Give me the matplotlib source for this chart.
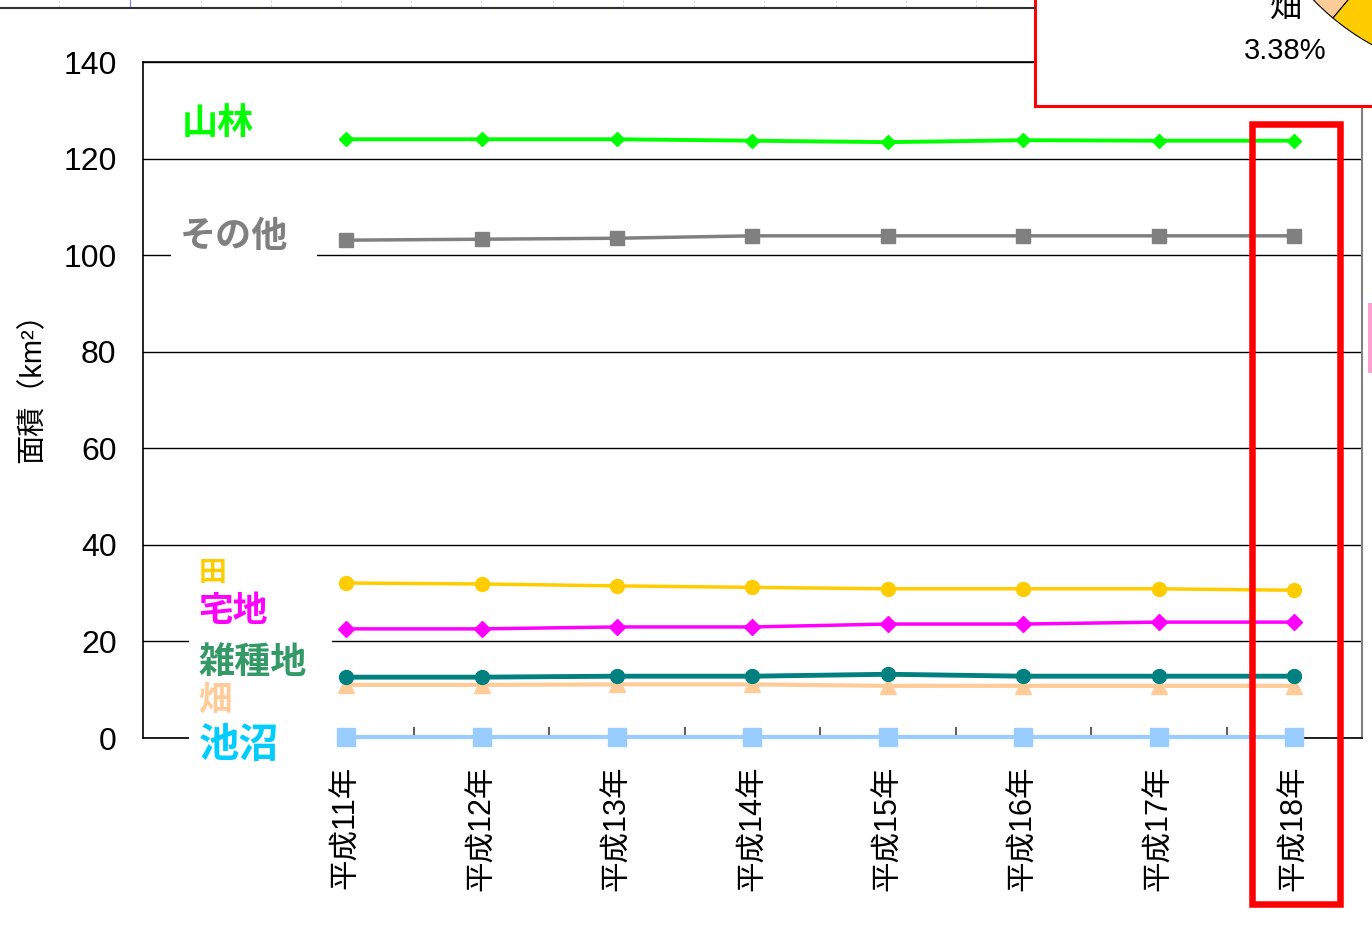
import matplotlib
matplotlib.use("Agg")
import matplotlib.pyplot as plt
from matplotlib.patches import Rectangle, Wedge
import numpy as np

# ---------------------------------------------------------------------------
# Data
# ---------------------------------------------------------------------------

years = ["平成11年", "平成12年", "平成13年", "平成14年",
         "平成15年", "平成16年", "平成17年", "平成18年"]

sanrin  = [124.0, 124.0, 124.0, 123.7, 123.4, 123.8, 123.7, 123.7]   # 山林
sonota  = [103.1, 103.3, 103.5, 104.0, 104.0, 104.0, 104.0, 104.0]   # その他
ta      = [32.1, 31.9, 31.5, 31.2, 30.9, 30.9, 30.9, 30.6]           # 田
takuchi = [22.6, 22.6, 23.0, 23.0, 23.6, 23.6, 24.0, 24.0]           # 宅地
zasshu  = [12.6, 12.6, 12.8, 12.8, 13.2, 12.8, 12.8, 12.8]           # 雑種地
hata    = [11.0, 11.0, 11.1, 11.1, 10.8, 10.8, 10.8, 10.8]           # 畑
chisho  = [0.2, 0.2, 0.2, 0.2, 0.2, 0.2, 0.2, 0.2]                   # 池沼

yticks = [0, 20, 40, 60, 80, 100, 120, 140]

LATIN = "Liberation Sans"
CJK = "Noto Sans CJK JP"
plt.rcParams["font.family"] = [LATIN, CJK, "DejaVu Sans"]

W, H = 1372, 931
fig = plt.figure(figsize=(W / 100, H / 100), dpi=100)
fig.patch.set_facecolor("white")

# axes box in pixels: x 143..1362, y 62..738
ax = fig.add_axes([143 / W, 1 - 738 / H, (1362 - 143) / W, (738 - 62) / H])
x = np.arange(len(years))

# series: (values, line colour, marker, marker size, line width)
series = [
    (chisho,  "#99CCFF", "s", 13.5, 3.0),
    (hata,    "#FFCC99", "^", 11.5, 3.0),
    (zasshu,  "#008080", "o", 10.0, 3.5),
    (takuchi, "#FF00FF", "D", 8.0, 2.5),
    (ta,      "#FFCC00", "o", 10.0, 2.5),
    (sonota,  "#808080", "s", 9.4, 2.5),
    (sanrin,  "#00FF00", "D", 7.6, 2.8),
]
for vals, col, mk, ms, lw in series:
    ax.plot(x, vals, color=col, marker=mk, markersize=ms, linewidth=lw,
            markeredgecolor=col, markerfacecolor=col, zorder=4, clip_on=False)

ax.set_xlim(-1.5, 7.5)
ax.set_ylim(0, 140)
ax.set_yticks(yticks)
ax.set_yticklabels([str(v) for v in yticks], fontsize=23)
ax.tick_params(axis="y", length=0, pad=19)
ax.yaxis.grid(True, color="black", linewidth=1.0)
ax.set_axisbelow(True)

ax.set_xticks(x)
ax.set_xticklabels(years, rotation=90, fontsize=22, va="top")
ax.tick_params(axis="x", which="major", length=0, pad=20)
ax.set_xticks(np.arange(-0.5, 7.0, 1.0), minor=True)
ax.tick_params(axis="x", which="minor", direction="in", length=8,
               color="#404040", width=1.2)

for side in ["left", "bottom", "top"]:
    ax.spines[side].set_color("black")
    ax.spines[side].set_linewidth(1.2)
ax.spines["right"].set_color("#808080")
ax.spines["right"].set_linewidth(1.5)

ax.set_ylabel("面積（km²）", fontsize=21, va="center")
ax.yaxis.set_label_coords((32 - 143) / 1219, 0.528)

# white patches behind the category labels (hide grid / axis)
for x0, x1, y0, y1 in [(-1.29, -0.214, 98.8, 101.2),
                       (-1.157, -0.103, 18.8, 21.2),
                       (-1.157, -0.07, -1.2, 2.4)]:
    ax.add_patch(Rectangle((x0, y0), x1 - x0, y1 - y0, facecolor="white",
                           edgecolor="none", zorder=2.7, clip_on=False))

# category labels
labels = [
    ("山林",   -1.216, 127.2, "#00FF00", 26),
    ("その他", -1.225, 103.8, "#808080", 26),
    ("田",     -1.09, 34.2, "#FFCC00", 20),
    ("宅地",   -1.09, 26.5, "#FF00FF", 25),
    ("雑種地", -1.09, 15.6, "#339966", 26),
    ("畑",     -1.09, 7.8, "#FFCC99", 24),
    ("池沼",   -1.09, -1.6, "#00CCFF", 29),
]
for txt, lx, ly, col, fs in labels:
    ax.text(lx, ly, txt, color=col, fontsize=fs, fontweight="bold",
            family=[CJK], ha="left", va="center", zorder=3, clip_on=False)

# ---------------------------------------------------------------------------
# overlay in pixel coordinates (decorations around the chart)
# ---------------------------------------------------------------------------
ov = fig.add_axes([0, 0, 1, 1], zorder=10)
ov.set_xlim(0, W)
ov.set_ylim(H, 0)
ov.axis("off")
ov.patch.set_alpha(0)

# spreadsheet strip at the top
for gx in [59, 201, 271, 341, 411, 481, 553, 623, 694, 764, 836, 906, 976]:
    ov.plot([gx, gx], [0, 7], color="#D0D8F0", linewidth=0.8, linestyle=(0, (2, 2)))
ov.plot([130, 130], [0, 7], color="#8090E0", linewidth=1.0)
ov.plot([0, 1035], [8, 8], color="#303030", linewidth=1.5)

# pie chart box (partly visible)
ov.add_patch(Rectangle((1034.5, -20), 400, 125.5, facecolor="white",
                       edgecolor="red", linewidth=2.2))
ov.add_patch(Wedge((1493, -174), 250, 129.8, 142, facecolor="#FFCC99",
                   edgecolor="black", linewidth=0.8))
ov.add_patch(Wedge((1493, -174), 250, 90, 129.8, facecolor="#FFCC00",
                   edgecolor="black", linewidth=0.8))
ov.text(1286, 8, "畑", fontsize=23, family=[CJK], ha="center", va="center")
ov.text(1285, 51, "3.38%", fontsize=21, family=[LATIN],
        ha="center", va="center")

# highlight box around the last year
ov.add_patch(Rectangle((1252, 124), 87.5, 780, facecolor="none",
                       edgecolor="red", linewidth=4.7))

# pink sliver at right edge
ov.add_patch(Rectangle((1368, 303), 6, 70, facecolor="#FFA0D0", edgecolor="none"))

fig.savefig("out.png", dpi=100)
